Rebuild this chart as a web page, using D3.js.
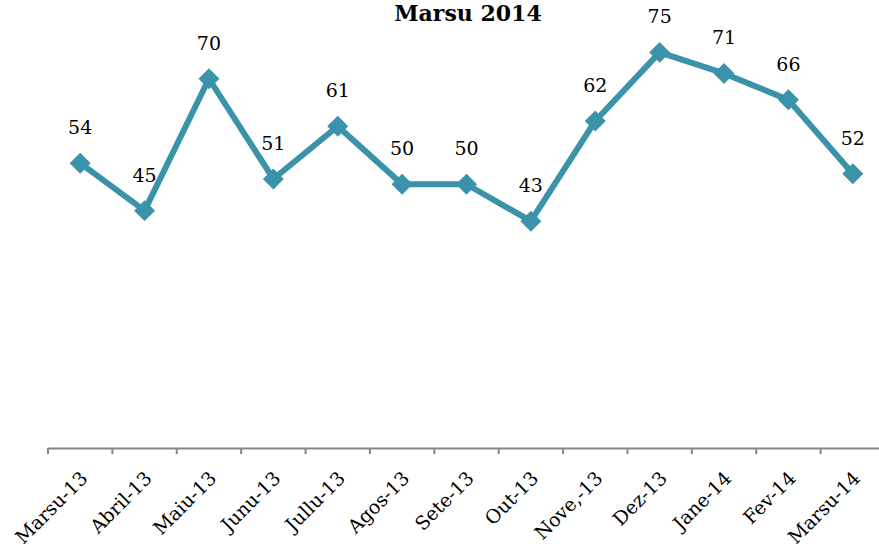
<!DOCTYPE html>
<html>
<head>
<meta charset="utf-8">
<script src="https://cdn.jsdelivr.net/npm/d3@7"></script>
<style>
  body { margin: 0; background: #fff; }
  svg { display: block; font-family: "DejaVu Serif", serif; }
</style>
</head>
<body>
<svg id="chart"></svg>
<script>
// Monthly values, Marsu 2013 -> Marsu 2014
const months = ['Marsu-13', 'Abril-13', 'Maiu-13', 'Junu-13', 'Jullu-13', 'Agos-13', 'Sete-13',
                'Out-13', 'Nove,-13', 'Dez-13', 'Jane-14', 'Fev-14', 'Marsu-14'];
const values = [54, 45, 70, 51, 61, 50, 50, 43, 62, 75, 71, 66, 52];
const title = 'Marsu 2014';

const W = 879, H = 549;
const svg = d3.select('#chart').attr('width', W).attr('height', H);

const x = d3.scaleBand().domain(months).range([48, 885]);
const y = d3.scaleLinear().domain([0, 80]).range([448, 26]);
const color = '#3a93a8';

// title, right at the top edge
svg.append('text')
    .attr('x', 468).attr('y', 21)
    .attr('text-anchor', 'middle')
    .attr('font-size', '22px')
    .attr('font-weight', 'bold')
    .attr('fill', '#000')
    .text(title);

// x axis
const xAxis = svg.append('g')
    .attr('transform', `translate(0,${y(0)})`)
    .call(d3.axisBottom(x).tickSize(0).tickPadding(0));
xAxis.select('.domain').attr('stroke', '#868686').attr('stroke-width', 2);
// ticks at category boundaries
xAxis.selectAll('.bound')
    .data(months)
    .join('line')
    .attr('class', 'bound')
    .attr('x1', d => x(d)).attr('x2', d => x(d))
    .attr('y1', 0).attr('y2', 6)
    .attr('stroke', '#868686').attr('stroke-width', 2);
xAxis.selectAll('.tick text')
    .attr('font-family', '"DejaVu Serif", serif')
    .attr('font-size', '19px')
    .attr('fill', '#000')
    .attr('text-anchor', 'end')
    .attr('transform', 'translate(-1,22) rotate(-45)');

const data = months.map((m, i) => ({ m, v: values[i] }));
const cx = d => x(d.m) + x.bandwidth() / 2;

svg.append('path')
    .datum(data)
    .attr('fill', 'none')
    .attr('stroke', color)
    .attr('stroke-width', 6)
    .attr('stroke-linejoin', 'round')
    .attr('d', d3.line().x(cx).y(d => y(d.v)));

svg.selectAll('.pt')
    .data(data)
    .join('path')
    .attr('class', 'pt')
    .attr('d', d3.symbol(d3.symbolSquare, 220)())
    .attr('transform', d => `translate(${cx(d)},${y(d.v)}) rotate(45)`)
    .attr('fill', color);

svg.selectAll('.lbl')
    .data(data)
    .join('text')
    .attr('class', 'lbl')
    .attr('x', cx)
    .attr('y', d => y(d.v) - 29)
    .attr('text-anchor', 'middle')
    .attr('font-size', '19px')
    .attr('fill', '#000')
    .text(d => d.v);
</script>
</body>
</html>
